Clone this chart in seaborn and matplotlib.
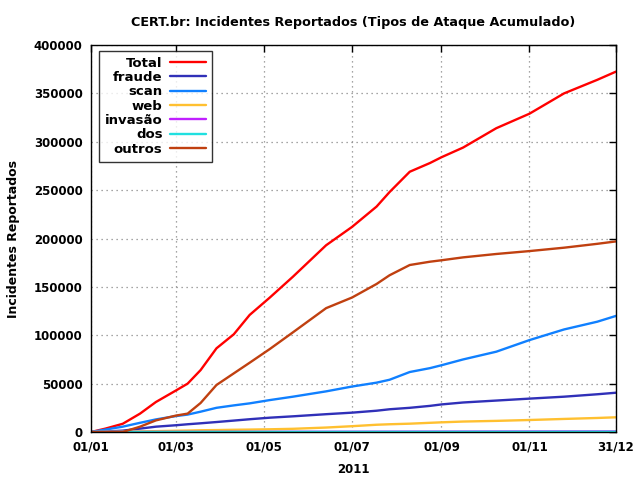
import matplotlib
matplotlib.use("Agg")
import matplotlib.pyplot as plt
import seaborn as sns
import pandas as pd

days = [0, 10, 22, 34, 45, 59, 67, 76, 87, 99, 110, 124, 140, 163, 181, 198,
        207, 221, 235, 243, 258, 281, 304, 328, 351, 364]
total = [0, 3500, 8500, 19000, 31000, 43000, 50000, 64000, 86500, 101000, 121000,
         139000, 160500, 193000, 212000, 233000, 248000, 269000, 278000, 284000,
         294000, 314000, 329000, 350000, 364000, 372500]
fraude = [0, 500, 1400, 3500, 5500, 7000, 8000, 9000, 10300, 11800, 13200, 14800,
          16200, 18400, 20000, 22000, 23500, 25000, 27000, 28500, 30500, 32500,
          34500, 36500, 39000, 40600]
scan = [0, 2500, 5500, 9500, 13000, 16500, 18000, 21000, 25000, 27500, 29600, 33000,
        36500, 42000, 47000, 51000, 54000, 62000, 66000, 69000, 75000, 83000, 95000,
        106000, 114000, 120000]
web = [0, 100, 300, 600, 900, 1300, 1500, 1800, 2000, 2300, 2500, 2800, 3300, 4600,
       6000, 7500, 8000, 8600, 9500, 10000, 10800, 11500, 12400, 13500, 14500, 15200]
invasao = [0, 20, 40, 60, 80, 100, 110, 120, 140, 160, 180, 200, 230, 270, 300, 330,
           350, 380, 400, 420, 440, 480, 520, 560, 590, 610]
dos = [0, 5, 10, 15, 20, 30, 35, 40, 45, 50, 55, 60, 70, 80, 90, 100, 105, 110, 120,
       125, 130, 140, 150, 170, 190, 200]
outros = [0, 0, 0, 5500, 12000, 17000, 19000, 30000, 48600, 60600, 71600, 85800,
          103000, 128000, 139000, 153000, 162000, 172600, 176000, 177500, 180500,
          184000, 187000, 190500, 194500, 197000]

series_names = ["Total", "fraude", "scan", "web", "invasão", "dos", "outros"]
series_vals = [total, fraude, scan, web, invasao, dos, outros]
colors = ["#ff0000", "#3030b8", "#1080ff", "#ffc030", "#c020ff", "#20e0e0", "#c04010"]

tick_days = [0, 59, 120, 181, 243, 304, 364]
tick_labels = ["01/01", "01/03", "01/05", "01/07", "01/09", "01/11", "31/12"]

rows = []
for name, vals in zip(series_names, series_vals):
    for d, v in zip(days, vals):
        rows.append({"dia": d, "valor": v, "serie": name})
df = pd.DataFrame(rows)

sns.set_style("white")
plt.rcParams["font.family"] = ["DejaVu Sans"]
plt.rcParams["font.weight"] = "bold"
for k in ["text.color", "axes.labelcolor", "xtick.color", "ytick.color",
          "xtick.labelcolor", "ytick.labelcolor"]:
    plt.rcParams[k] = "black"

fig = plt.figure(figsize=(6.4, 4.8), dpi=100)
ax = fig.add_axes([91/640, 48/480, 525/640, 387/480])

sns.lineplot(data=df, x="dia", y="valor", hue="serie", hue_order=series_names,
             palette=dict(zip(series_names, colors)), linewidth=1.7, ax=ax,
             estimator=None, sort=False)

ax.set_xlim(0, 364)
ax.set_ylim(0, 400000)
ax.set_xticks(tick_days)
ax.set_xticklabels(tick_labels, fontsize=8.5, fontweight="bold", color="black")
yt = list(range(0, 400001, 50000))
ax.set_yticks(yt)
ax.set_yticklabels([str(v) for v in yt], fontsize=8.5, fontweight="bold", color="black")
ax.tick_params(direction="in", length=5, width=1, top=True, right=True,
               colors="black", pad=6)
ax.grid(True, linestyle=(0, (1, 3)), color="#888888", linewidth=0.9)
for s in ax.spines.values():
    s.set_color("black")
    s.set_linewidth(1.0)

ax.set_xlabel("2011", fontsize=8.5, fontweight="bold", labelpad=7, color="black")
ax.set_ylabel("Incidentes Reportados", fontsize=9, fontweight="bold", labelpad=10,
              color="black")
ax.set_title("CERT.br: Incidentes Reportados (Tipos de Ataque Acumulado)",
             fontsize=9.2, fontweight="bold", pad=14, color="black")

leg = ax.legend(loc="upper left", bbox_to_anchor=(0.015, 0.985), markerfirst=False,
                frameon=True, fancybox=False, edgecolor="black",
                prop={"weight": "bold", "size": 9.5}, handlelength=2.7,
                labelspacing=0.1, borderpad=0.45, handletextpad=0.6,
                borderaxespad=0)
leg.get_frame().set_linewidth(1.0)
for t in leg.get_texts():
    t.set_color("black")
for line in leg.get_lines():
    line.set_linewidth(1.7)

fig.savefig("out.png", dpi=100)
